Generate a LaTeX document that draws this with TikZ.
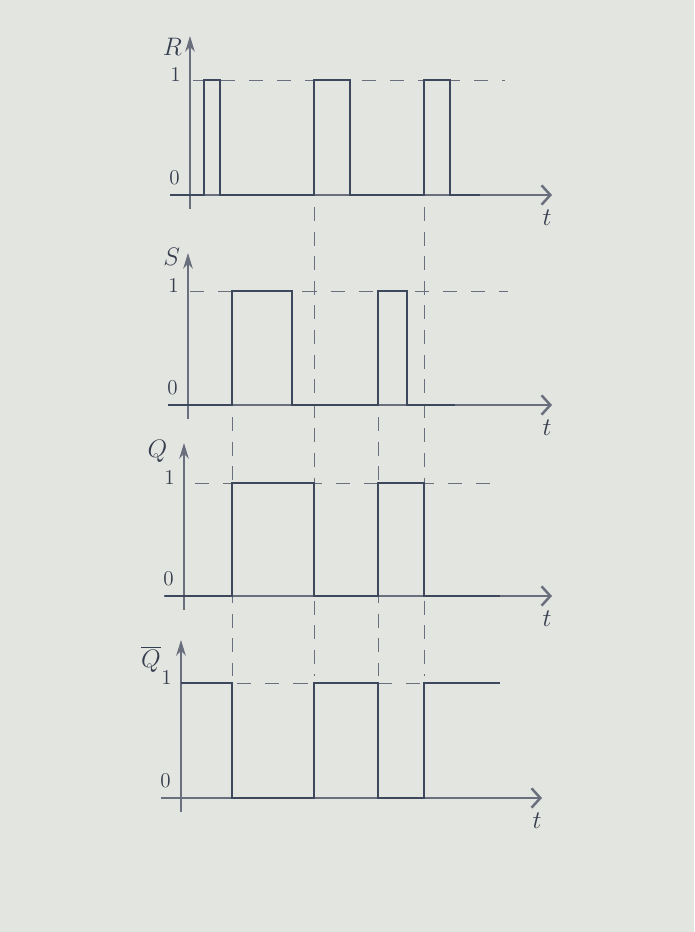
\documentclass[tikz,border=0pt]{standalone}
\usepackage{tikz}
\usetikzlibrary{arrows.meta}
\definecolor{paper}{RGB}{227,229,224}
\definecolor{ink}{RGB}{62,72,92}
\definecolor{pencil}{RGB}{105,111,124}

\begin{document}
\begin{tikzpicture}[x=0.02cm,y=-0.02cm,
  axis/.style={line width=.7pt,draw=pencil},
  yarrow/.style={-{Stealth[length=9pt,width=5.5pt]}},
  tarrow/.style={-{Straight Barb[length=5pt,width=11pt,line width=1.4pt]}},
  signal/.style={line width=1.4pt,draw=ink,line join=miter},
  level/.style={line width=.5pt,draw=pencil,dash pattern=on 8pt off 8pt},
  guide/.style={line width=.5pt,draw=pencil,dash pattern=on 8pt off 6pt},
  lab/.style={font=\Large,text=ink!85!black},
  tick/.style={font=\large,text=ink!85!black}]
  \fill[paper] (0,0) rectangle (694,932);
  \useasboundingbox (0,0) rectangle (694,932);

  % axes of the four panels
  \foreach \p/\ax/\ay/\ytop/\lev/\tend in {R/190/195/36/80/552,S/188/405/253/291/552,
      Q/184/596/443/483/552,Qb/181/798/640/683/542}{
    \coordinate (\p-west) at (\ax-20,\ay);
    \coordinate (\p-east) at (\tend,\ay);
    \coordinate (\p-foot) at (\ax,\ay+14);
    \coordinate (\p-head) at (\ax,\ytop);
    \draw[axis,tarrow] (\p-west) -- (\p-east);
    \draw[axis,yarrow] (\p-foot) -- (\p-head);
    \node[tick,anchor=east] (\p-one) at (\ax-3,\lev-6) {1};
    \node[tick,anchor=east] (\p-zero) at (\ax-4,\ay-17) {0};
    \node[lab] (\p-t) at (\tend-5,\ay+23) {$t$};
  }
  \node[lab,anchor=east] (R-lab) at (R-head) [xshift=-1pt,yshift=-6pt] {$R$};
  \node[lab,anchor=east] (S-lab) at (S-head) [xshift=-1pt,yshift=-2pt] {$S$};
  \node[lab,anchor=east] (Q-lab) at (Q-head) [xshift=-6pt,yshift=-5pt] {$Q$};
  \node[lab,anchor=east] (Qb-lab) at (Qb-head) [xshift=-8pt,yshift=-11pt] {$\overline{Q}$};

  % level 1 and time guides
  \draw[level] (193,80) -- (505,80);
  \draw[level] (190,291) -- (508,291);
  \draw[level] (195,483) -- (503,483);
  \draw[level] (181,683) -- (424,683);
  \foreach \t/\from in {314/207,424/207,232/417,378/417}{
    \draw[guide] (\t,\from) -- (\t,676);
  }

  % signals
  \draw[signal] (170,195) -| (204,80) -| (220,195) -| (314,80) -| (350,195)
      -| (424,80) -| (450,195) -- (480,195);
  \draw[signal] (168,405) -| (232,291) -| (292,405) -| (378,291) -| (407,405) -- (455,405);
  \draw[signal] (165,596) -| (232,483) -| (314,596) -| (378,483) -| (424,596) -- (500,596);
  \draw[signal] (181,683) -| (232,798) -| (314,683) -| (378,798) -| (424,683) -- (500,683);
\end{tikzpicture}
\end{document}
